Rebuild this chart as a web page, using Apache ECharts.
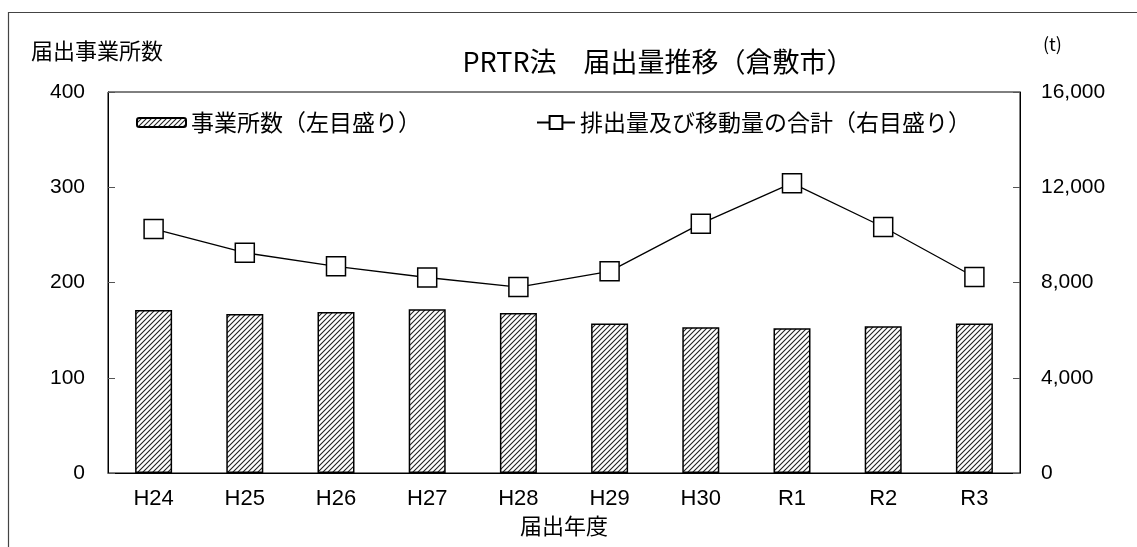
<!DOCTYPE html>
<html><head><meta charset="utf-8">
<script src="https://cdn.jsdelivr.net/npm/echarts@6/dist/echarts.min.js"></script>
<style>html,body{margin:0;padding:0;background:#fff}#c{width:1137px;height:547px}</style>
</head><body><div id="c"></div>
<script>
const categories = ['H24','H25','H26','H27','H28','H29','H30','R1','R2','R3'];
const facilityCounts = [171,167,169,172,168,157,153,152,154,157];
const emissionTotals = [10250,9250,8680,8210,7810,8470,10470,12170,10330,8230];
const leftTicks = [0,100,200,300,400];
const rightTicks = [0,4000,8000,12000,16000];

const FONT = '"Liberation Sans","Noto Sans CJK JP",sans-serif';
const CJK = '"Noto Sans CJK JP","Liberation Sans",sans-serif';

function hatch(){
  const s = 5;
  const c = document.createElement('canvas');
  c.width = s; c.height = s;
  const g = c.getContext('2d');
  g.fillStyle = '#fff'; g.fillRect(0,0,s,s);
  g.strokeStyle = '#222'; g.lineWidth = 1.1;
  g.beginPath();
  g.moveTo(0,s); g.lineTo(s,0);
  g.moveTo(-s,s); g.lineTo(s,-s);
  g.moveTo(0,2*s); g.lineTo(2*s,0);
  g.stroke();
  return c;
}
const pat = {image: hatch(), repeat: 'repeat'};

const chart = echarts.init(document.getElementById('c'), null, {renderer:'canvas'});
chart.setOption({
  animation:false,
  backgroundColor:'#fff',
  graphic:[
    {type:'rect', shape:{x:8.5,y:12.5,width:1200,height:600}, style:{fill:'none',stroke:'#444',lineWidth:1.2}, silent:true},
    {type:'text', left:31, top:40, style:{text:'届出事業所数', font:'22px '+CJK, fill:'#000'}},
    {type:'text', left:1043, top:35, style:{text:'(t)', font:'18px '+CJK, fill:'#000'}}
  ],
  title:{
    text:'PRTR法　届出量推移（倉敷市）',
    left:653, top:43, textAlign:'center',
    textStyle:{fontFamily:CJK, fontSize:27, fontWeight:'normal', color:'#000'}
  },
  legend:[
    {data:['事業所数（左目盛り）'], left:131, top:106, itemWidth:49, itemHeight:9, itemGap:4,
     textStyle:{fontFamily:CJK, fontSize:23, color:'#000'}},
    {data:['排出量及び移動量の合計（右目盛り）'], left:531, top:106, itemWidth:38, itemHeight:16,
     textStyle:{fontFamily:CJK, fontSize:23, color:'#000'}}
  ],
  grid:{left:108, right:117, top:92, bottom:74, show:true, borderColor:'#000', borderWidth:1},
  xAxis:{
    type:'category', data:categories,
    name:'届出年度', nameLocation:'middle', nameGap:38,
    nameTextStyle:{fontFamily:CJK, fontSize:22, color:'#000'},
    axisLine:{lineStyle:{color:'#000'}},
    axisTick:{show:false},
    axisLabel:{fontFamily:FONT, fontSize:22, color:'#000', margin:15}
  },
  yAxis:[
    {type:'value', min:0, max:400, interval:100,
     axisLine:{show:true, lineStyle:{color:'#000'}},
     axisTick:{show:true, inside:true, length:7, lineStyle:{color:'#555'}},
     splitLine:{show:false},
     axisLabel:{fontFamily:FONT, fontSize:21, color:'#000', margin:23, align:'right',
       formatter:v=>leftTicks.includes(v)?String(v):''}},
    {type:'value', min:0, max:16000, interval:4000,
     axisLine:{show:true, lineStyle:{color:'#000'}},
     axisTick:{show:true, inside:true, length:7, lineStyle:{color:'#555'}},
     splitLine:{show:false},
     axisLabel:{fontFamily:FONT, fontSize:21, color:'#000', margin:21,
       formatter:v=>rightTicks.includes(v)?v.toLocaleString('en-US'):''}}
  ],
  series:[
    {name:'事業所数（左目盛り）', type:'bar', yAxisIndex:0, data:facilityCounts,
     barWidth:37, itemStyle:{color:pat, borderColor:'#000', borderWidth:1.5}},
    {name:'排出量及び移動量の合計（右目盛り）', type:'line', yAxisIndex:1, data:emissionTotals,
     symbol:'rect', symbolSize:19, showAllSymbol:true,
     lineStyle:{color:'#000', width:1.3},
     itemStyle:{color:'#fff', borderColor:'#000', borderWidth:1.5}}
  ]
});
</script></body></html>
